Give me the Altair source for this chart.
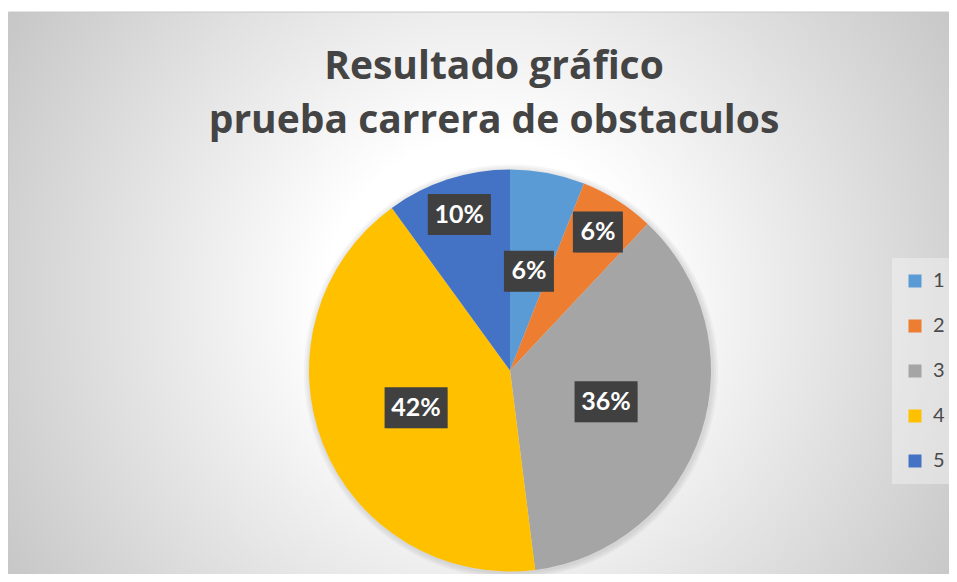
import altair as alt
import pandas as pd

# ---- data ----
categories = ["1", "2", "3", "4", "5"]
values = [3, 3, 18, 21, 5]          # 6%, 6%, 36%, 42%, 10%
colors = ["#5B9BD5", "#ED7D31", "#A5A5A5", "#FFC000", "#4472C4"]
title_lines = ["Resultado gráfico", "prueba carrera de obstaculos"]
outer_label_cats = ["2", "5"]       # labels Excel placed further out

df = pd.DataFrame({"cat": categories, "value": values, "order": list(range(len(values)))})
one = pd.DataFrame({"a": [0]})

W, H = 941, 566
CX, CY, R = 502, 362.5, 201
R_IN, R_OUT = 101, 164
FONT = "Lato"
TITLE_FONT = "Open Sans"

bg = alt.Chart(one).mark_rect(
    fill={
        "gradient": "radial",
        "x1": 0.5, "y1": 0.5, "r1": 0,
        "x2": 0.5, "y2": 0.5, "r2": 0.66,
        "stops": [
            {"offset": 0, "color": "#ffffff"},
            {"offset": 0.25, "color": "#ffffff"},
            {"offset": 1, "color": "#bcbcbc"},
        ],
    },
    stroke="#c8c8c8", strokeWidth=1,
).encode(x=alt.value(0.5), x2=alt.value(W + 10), y=alt.value(4), y2=alt.value(H + 10))

glow = alt.layer(*[
    alt.Chart(one).mark_arc(outerRadius=R + d, theta=0, theta2=6.2832, color="black", opacity=0.035)
    .encode(x=alt.value(CX + 1), y=alt.value(CY + 1))
    for d in (2, 4, 6)
])

pie = alt.Chart(df).mark_arc(outerRadius=R).encode(
    theta=alt.Theta("value:Q", stack=True),
    order=alt.Order("order:Q"),
    color=alt.Color(
        "cat:N",
        scale=alt.Scale(domain=categories, range=colors),
        legend=alt.Legend(
            title=None, orient="none", legendX=884, legendY=250,
            fillColor="rgba(255,255,255,0.35)", padding=13,
            symbolType="square", symbolSize=169, symbolStrokeWidth=0,
            labelFont=FONT, labelFontSize=20, labelColor="#4a4a4a",
            labelOffset=8, rowPadding=25,
        ),
    ),
    x=alt.value(CX), y=alt.value(CY),
)

outer_test = " || ".join(f"datum.cat == '{c}'" for c in outer_label_cats)
lab = alt.Chart(df).transform_joinaggregate(
    total="sum(value)"
).transform_window(
    cum="sum(value)", sort=[alt.SortField("order")], frame=[None, 0]
).transform_calculate(
    mid="(datum.cum - datum.value / 2) / datum.total * 2 * PI",
    rr=f"({outer_test}) ? {R_OUT} : {R_IN}",
    px=f"{CX} + datum.rr * sin(datum.mid)",
    py=f"{CY} - datum.rr * cos(datum.mid)",
    label="format(datum.value / datum.total, '.0%')",
    hw="(24 + 13 * length(datum.label)) / 2",
    x1="datum.px - datum.hw",
    x2="datum.px + datum.hw",
    y1="datum.py - 20.5",
    y2="datum.py + 20.5",
)

box_enc = dict(
    x=alt.X("x1:Q", scale=None, axis=None), x2="x2:Q",
    y=alt.Y("y1:Q", scale=None, axis=None), y2="y2:Q",
)
shadow = lab.mark_rect(color="black", opacity=0.18, xOffset=3, yOffset=4).encode(**box_enc)
box = lab.mark_rect(color="#404040").encode(**box_enc)
text = lab.mark_text(
    font=FONT, fontSize=25, fontWeight="bold", color="white", baseline="middle", align="center"
).encode(
    x=alt.X("px:Q", scale=None, axis=None),
    y=alt.Y("py:Q", scale=None, axis=None),
    text="label:N",
)

title = alt.Chart(one).mark_text(
    text=title_lines, font=TITLE_FONT, fontSize=39, fontWeight="bold", color="#444444",
    lineHeight=54, align="center", baseline="alphabetic",
).encode(x=alt.value(486), y=alt.value(71))

chart = alt.layer(bg, glow, pie, shadow, box, text, title).properties(
    width=W, height=H, padding=0, autosize="none", background="white"
).configure_view(stroke=None)

chart.save("out.html", embed_options={"renderer": "svg", "actions": False})
